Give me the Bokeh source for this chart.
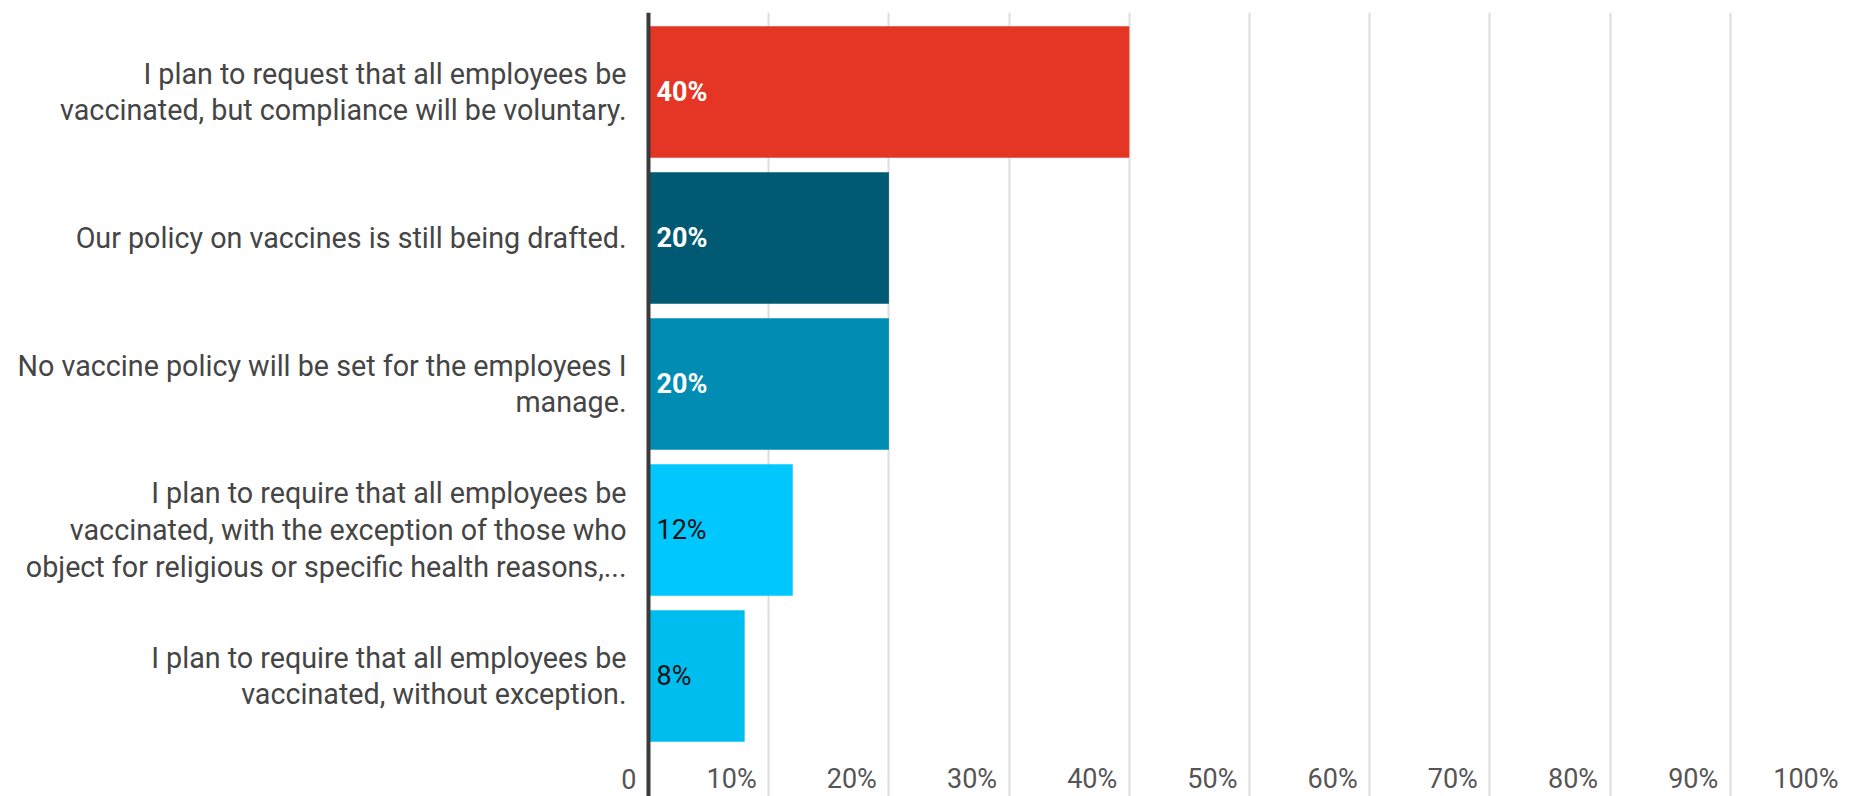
from bokeh.plotting import figure
from bokeh.models import Range1d, FixedTicker, ColumnDataSource, Span
from bokeh.core.properties import value
from bokeh.embed import file_html
from bokeh.resources import INLINE

categories = [
    "I plan to request that all employees be\nvaccinated, but compliance will be voluntary.",
    "Our policy on vaccines is still being drafted.",
    "No vaccine policy will be set for the employees I\nmanage.",
    "I plan to require that all employees be\nvaccinated, with the exception of those who\nobject for religious or specific health reasons,...",
    "I plan to require that all employees be\nvaccinated, without exception.",
]
percentages = [40, 20, 20, 12, 8]
value_labels = ["40%", "20%", "20%", "12%", "8%"]
bar_colors = ["#E53525", "#005A73", "#008CB3", "#00C8FF", "#00BDEF"]
label_colors = ["#FFFFFF", "#FFFFFF", "#FFFFFF", "#111111", "#111111"]
label_weights = ["bold", "bold", "bold", "normal", "normal"]
tick_values = [0, 10, 20, 30, 40, 50, 60, 70, 80, 90, 100]
tick_labels = ["0", "10%", "20%", "30%", "40%", "50%", "60%", "70%", "80%", "90%", "100%"]

n = len(categories)
positions = [n - 1 - i for i in range(n)]  # top to bottom

x_start, x_end = -3.993, 100
y_start, y_end = -0.825, 4.545
label_y = -0.702

FONT = "Roboto"

p = figure(
    width=1850, height=796,
    x_range=Range1d(x_start, x_end), y_range=Range1d(y_start, y_end),
    output_backend="svg", toolbar_location=None,
    min_border_left=600, min_border_right=0, min_border_top=12, min_border_bottom=0,
)
p.outline_line_color = None
p.background_fill_color = "white"

p.xaxis.visible = False
p.xgrid.ticker = FixedTicker(ticks=tick_values[1:-1])
p.xgrid.grid_line_color = "#dddddd"
p.xgrid.grid_line_width = 2
p.ygrid.grid_line_color = None

src = ColumnDataSource(dict(y=positions, right=percentages, color=bar_colors,
                            lab=value_labels, lcol=label_colors, lw=label_weights))
p.hbar(y="y", left=0, right="right", height=0.9, fill_color="color", line_color=None, source=src)
p.text(x=0, y="y", text="lab", text_color="lcol", text_font_style="lw", source=src,
       text_font=value(FONT), text_font_size="27px", text_align="left",
       text_baseline="middle", x_offset=8)

# value axis tick labels, drawn inside the plot area like the reference
tsrc = ColumnDataSource(dict(x=tick_values, y=[label_y] * len(tick_values), t=tick_labels))
p.text(x="x", y="y", text="t", source=tsrc, text_font=value(FONT), text_font_size="27px",
       text_color="#555555", text_align="right", text_baseline="middle", x_offset=-12)

# zero baseline
p.add_layout(Span(location=0, dimension="height", line_color="#3a3a3a", line_width=4))

yax = p.yaxis[0]
yax.ticker = FixedTicker(ticks=positions)
yax.major_label_overrides = {pos: cat for pos, cat in zip(positions, categories)}
yax.major_tick_line_color = None
yax.minor_tick_line_color = None
yax.major_tick_out = 0
yax.major_tick_in = 0
yax.axis_line_color = None
yax.major_label_text_font = FONT
yax.major_label_text_font_size = "28.7px"
yax.major_label_text_color = "#454545"
yax.major_label_text_align = "right"
yax.major_label_text_line_height = 1.08
yax.major_label_standoff = -26

open("out.html", "w").write(file_html(p, INLINE))
